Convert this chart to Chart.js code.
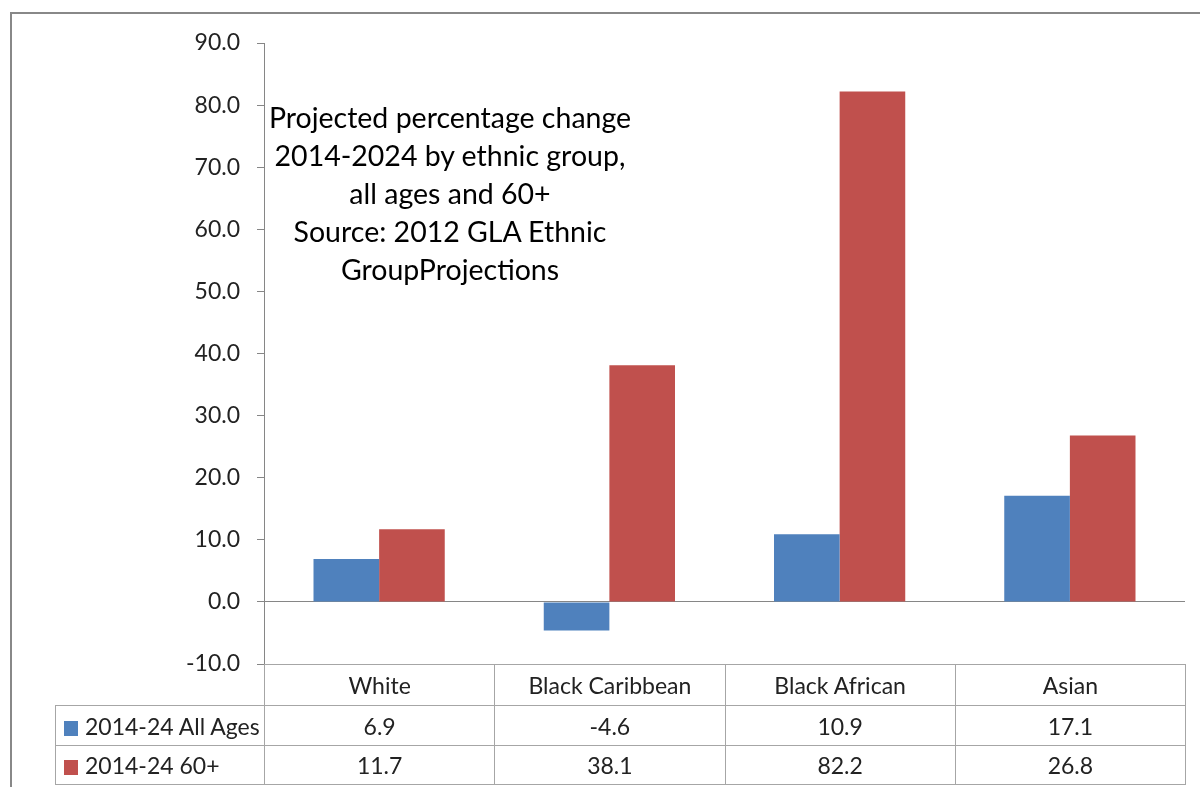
<!DOCTYPE html>
<html>
<head>
<meta charset="utf-8">
<script src="https://cdn.jsdelivr.net/npm/chart.js@4.4.0/dist/chart.umd.min.js"></script>
<style>
  body { margin: 0; background: #fff; font-family: Lato, "Open Sans", sans-serif; }
  #wrap { position: relative; width: 1200px; height: 787px; overflow: hidden; }
  #frame { position: absolute; left: 10px; top: 12px; width: 1300px; height: 900px;
           border-left: 2px solid #888; border-top: 2px solid #888; box-sizing: border-box; }
  #title { position: absolute; left: 225px; top: 98px; width: 450px; text-align: center;
           font-size: 28.5px; line-height: 38px; color: #000; }
  #dataTable { position: absolute; border-collapse: collapse; table-layout: fixed;
               font-size: 23px; color: #222; }
  #dataTable td { border: 1px solid #a6a6a6; text-align: center; padding: 0; white-space: nowrap; }
  #dataTable td.key { text-align: left; padding-left: 8px; }
  #dataTable td.blank { border-top: none; border-left: none; }
  .swatch { display: inline-block; width: 14px; height: 15px; margin-right: 7px; vertical-align: -1px; }
</style>
</head>
<body>
<div id="wrap">
  <canvas id="myChart" width="1200" height="787"></canvas>
  <div id="frame"></div>
  <div id="title">Projected percentage change<br>2014-2024 by ethnic group,<br>all ages and 60+<br>Source: 2012 GLA Ethnic<br>GroupProjections</div>
  <table id="dataTable"></table>
</div>
<script>
const categorias = ['White', 'Black Caribbean', 'Black African', 'Asian'];
const seriesNombres = ['2014-24 All Ages', '2014-24 60+'];
const todasEdades = [6.9, -4.6, 10.9, 17.1];
const mayores60 = [11.7, 38.1, 82.2, 26.8];
const yMin = -10;
const yMax = 90;
const yPaso = 10;

const colores = ['#4F81BD', '#C0504D'];
const gris = '#868686';

const ctx = document.getElementById('myChart').getContext('2d');

const chart = new Chart(ctx, {
    type: 'bar',
    data: {
        labels: categorias,
        datasets: [
            { label: seriesNombres[0], data: todasEdades, backgroundColor: colores[0] },
            { label: seriesNombres[1], data: mayores60, backgroundColor: colores[1] }
        ]
    },
    options: {
        responsive: false,
        animation: false,
        layout: { padding: { left: 11, top: 43, right: 15, bottom: 123 } },
        datasets: { bar: { barPercentage: 1, categoryPercentage: 0.57 } },
        scales: {
            x: { display: false },
            y: {
                min: yMin,
                max: yMax,
                afterFit: (scale) => { scale.width = 253; },
                border: { color: gris, width: 1 },
                grid: {
                    drawOnChartArea: true,
                    tickLength: 7,
                    tickColor: gris,
                    color: (c) => (c.tick && c.tick.value === 0 ? gris : 'rgba(0,0,0,0)')
                },
                ticks: {
                    stepSize: yPaso,
                    padding: 17,
                    color: '#222',
                    font: { family: 'Lato', size: 23 },
                    callback: (v) => v.toFixed(1)
                }
            }
        },
        plugins: {
            legend: { display: false },
            tooltip: { enabled: false }
        }
    }
});

// tabla de datos debajo del grafico, alineada con las categorias
function construirTabla() {
    const area = chart.chartArea;
    const tabla = document.getElementById('dataTable');
    const izq = 55;
    const anchoClave = area.left - izq;
    const anchoCol = (area.right - area.left) / categorias.length;
    tabla.style.left = izq + 'px';
    tabla.style.top = area.bottom + 'px';

    let html = '<colgroup><col style="width:' + anchoClave + 'px">';
    categorias.forEach(() => { html += '<col style="width:' + anchoCol + 'px">'; });
    html += '</colgroup>';

    html += '<tr style="height:41px"><td class="blank"></td>';
    categorias.forEach(c => { html += '<td>' + c + '</td>'; });
    html += '</tr>';

    const filas = [todasEdades, mayores60];
    const alturas = [40, 39];
    filas.forEach((fila, i) => {
        html += '<tr style="height:' + alturas[i] + 'px"><td class="key"><span class="swatch" style="background:' +
            colores[i] + '"></span>' + seriesNombres[i] + '</td>';
        fila.forEach(v => { html += '<td>' + v.toFixed(1) + '</td>'; });
        html += '</tr>';
    });
    tabla.innerHTML = html;
}

construirTabla();
</script>
</body>
</html>
